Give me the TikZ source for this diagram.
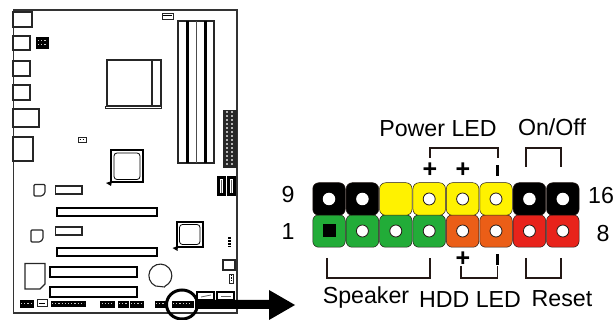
\documentclass[tikz,border=0pt]{standalone}
\usepackage{fontspec}
\setmainfont{Liberation Sans}
\usepackage{tikz}
\usetikzlibrary{arrows}

\definecolor{pinyellow}{HTML}{FFF200}
\definecolor{pingreen}{HTML}{22AC38}
\definecolor{pinorange}{HTML}{EB5E17}
\definecolor{pinred}{HTML}{E8231B}
\definecolor{pinline}{HTML}{231815}

\begin{document}
\begin{tikzpicture}[x=1pt,y=-1pt,node distance=33.4pt,semithick]
\tikzstyle{pin}=[draw=pinline,line width=0.5pt,rounded corners=6pt,minimum size=32.5pt,inner sep=0pt]
\tikzstyle{hole}=[circle,fill=white,draw=pinline,line width=0.8pt,minimum size=12pt,inner sep=0pt]
\tikzstyle{blackhole}=[circle,fill=white,minimum size=12.5pt,inner sep=0pt]
\tikzstyle{txt}=[font=\fontsize{23.2pt}{26}\selectfont,inner sep=0pt]
\tikzstyle{sign}=[font=\fontsize{25pt}{26}\bfseries\selectfont,inner sep=0pt]
\tikzstyle{bracket}=[line width=1.1pt,draw=pinline]
\tikzstyle{bar}=[fill=black,minimum width=2.8pt,minimum height=11pt,inner sep=0pt]
\tikzstyle{board}=[line width=1.1pt,draw=black!85]
\tikzstyle{header}=[fill=black,draw=black]
\tikzstyle{headerdots}=[white!80!black,line width=1pt,dash pattern=on 1.2pt off 2pt]
\useasboundingbox (0,0) rectangle (613,320);

        % board outline
        \draw[line width=1.4pt,black!80] (13.5,137) -- (13.5,313) -- (237,313) -- (237,10) -- (13.5,10) -- (13.5,137);

        % back panel
        \draw[board,fill=white] (13,12) rectangle (32,27);
        \draw[board,fill=white] (13,36) rectangle (30,50);
        \draw[board,fill=white] (13,61) rectangle (30,76);
        \draw[board,fill=white] (13,85) rectangle (30,100);
        \draw[board,fill=white] (13,109) rectangle (39,127);
        \draw[board,fill=white] (13,137) rectangle (33,161);

        % small chips at the top
        \draw[header] (36,37) rectangle (48,48);
        \draw[headerdots] (38,41) -- (46,41);
        \draw[headerdots] (38,45) -- (46,45);
        \draw[board,line width=0.8pt] (78,137) rectangle (86,142);
        \draw[headerdots,black] (79.5,139.5) -- (85,139.5);
        \draw[board,line width=0.8pt] (162,13) rectangle (173,19);
        \draw[black,line width=1pt] (163,16) -- (172,16);

        % cpu socket
        \draw[board] (107,60) rectangle (161,106);
        \draw[board] (152,60) -- (152,106);
        \draw[board,line width=0.8pt] (105.5,106) rectangle (161,108.5);

        % memory slots
        \draw[board] (178,21) rectangle (214,163);
        \draw[black,line width=2.6pt] (187.5,21) -- (187.5,163);
        \draw[black!70,line width=1.2pt] (196.5,21) -- (196.5,163);
        \draw[black,line width=2.6pt] (205.5,21) -- (205.5,163);

        % atx connector
        \draw[fill=black!85,draw=black!85] (223,110) rectangle (236,167);
        \draw[white!70!black,line width=2pt,dash pattern=on 1.6pt off 2.4pt] (226.5,111) -- (226.5,166);
        \draw[white!70!black,line width=2pt,dash pattern=on 1.6pt off 2.4pt] (232,111) -- (232,166);

        % chipsets
        \draw[line width=1.6pt] (143,182) -- (143,150) -- (111,150) -- (111,182) -- cycle;
        \draw[line width=0.8pt,rounded corners=3pt] (140,179.5) -- (140,153) -- (114,153) -- (114,179.5) -- cycle;
        \fill (106,183) -- (112,181) -- (111,186) -- cycle;
        \draw[line width=1.6pt] (203,247) -- (203,222) -- (177,222) -- (177,247) -- cycle;
        \draw[line width=0.8pt,rounded corners=3pt] (200,244.5) -- (200,224.5) -- (179.5,224.5) -- (179.5,244.5) -- cycle;
        \fill (172.5,248) -- (178,246) -- (177.5,251) -- cycle;

        % sata
        \draw[black,line width=3pt] (218,178) rectangle (224,195);
        \draw[black,line width=3pt] (228,178) rectangle (234,195);
        \draw[black,line width=2.6pt] (197,292) rectangle (214,300);
        \draw[black,line width=2.6pt] (217,292) rectangle (234,300);
        \draw[black!60,line width=0.8pt] (201,297) -- (211,295);
        \draw[black!60,line width=0.8pt] (221,296) -- (231,296);
        \draw[black!60,line width=0.8pt] (221,180) -- (221,193);
        \draw[black!60,line width=0.8pt] (231,180) -- (231,193);

        % expansion slots
        \draw[board,line width=1.3pt] (55.5,186) rectangle (82,194);
        \draw[board,line width=1.3pt] (55.5,227) rectangle (82,235);
        \draw[line width=2pt] (56.5,208) rectangle (157,216);
        \draw[line width=2pt] (56.5,248) rectangle (157,256);
        \draw[line width=1.6pt] (50,267) rectangle (137,277);
        \draw[line width=1.6pt] (50,287) rectangle (137,297);

        % regulators, audio, battery
        \draw[board,rounded corners=1pt] (34,184.5) -- (45,184.5) -- (45,193) -- (42,196) -- (34,196) -- cycle;
        \draw[board,rounded corners=1pt] (31,230) -- (43,230) -- (43,239) -- (40,242) -- (31,242) -- cycle;
        \draw[board] (25,263.5) -- (45,263.5) -- (45,284) -- (40,289) -- (25,289) -- cycle;
        \draw[board] (155.5,286) arc[start angle=115,end angle=425,radius=11.5] -- (164.5,287) -- cycle;

        % small parts on the right
        \draw[black,line width=3pt,dash pattern=on 2pt off 1pt] (229,237) -- (229,247);
        \draw[board] (223,260) rectangle (235,270);
        \draw[board,line width=0.8pt] (229,274) rectangle (233.5,283);
        \draw[black,line width=1pt,dash pattern=on 1.5pt off 1pt] (231,275) -- (231,282);

        % bottom headers
        \draw[header] (20,300.5) rectangle (33,307);
        \draw[headerdots] (21,303.8) -- (32,303.8);
        \draw[board,line width=1pt] (37,300) rectangle (47,307);
        \draw[black,line width=1pt] (39,304) -- (45,304);
        \draw[header] (51,301) rectangle (85,306.5);
        \draw[headerdots] (52,303.8) -- (84,303.8);
        \draw[header] (100.5,301) rectangle (114,307);
        \draw[headerdots] (101.5,304) -- (113,304);
        \draw[header] (118,301) rectangle (128,307);
        \draw[headerdots] (119,304) -- (127,304);
        \draw[header] (130,301) rectangle (143,307);
        \draw[headerdots] (131,304) -- (142,304);
        \draw[header] (155,301) rectangle (165,307);
        \draw[headerdots] (156,304) -- (164,304);
        \draw[header] (172,301) rectangle (193,307);
        \draw[headerdots] (173,304) -- (192,304);

        % arrow and circle
        \fill[black] (195,300) -- (269,300) -- (269,290) -- (295,305) -- (269,320) -- (269,309) -- (195,309) -- cycle;
        \draw[line width=3pt] (182,304.5) ellipse (15.5pt and 14.5pt);

        % the pins
        \node[pin,fill=pingreen]     (pin1)                  at (329,231) {};
        \node[pin,fill=pingreen]     (pin2)  [right of=pin1]  {};
        \node[pin,fill=pingreen]     (pin3)  [right of=pin2]  {};
        \node[pin,fill=pingreen]     (pin4)  [right of=pin3]  {};
        \node[pin,fill=pinorange]    (pin5)  [right of=pin4]  {};
        \node[pin,fill=pinorange]    (pin6)  [right of=pin5]  {};
        \node[pin,fill=pinred]       (pin7)  [right of=pin6]  {};
        \node[pin,fill=pinred]       (pin8)  [right of=pin7]  {};

        \node[pin,fill=black]        (pin9)                  at (329,199) {};
        \node[pin,fill=black]        (pin10) [right of=pin9]  {};
        \node[pin,fill=pinyellow]    (pin11) [right of=pin10] {};
        \node[pin,fill=pinyellow]    (pin12) [right of=pin11] {};
        \node[pin,fill=pinyellow]    (pin13) [right of=pin12] {};
        \node[pin,fill=pinyellow]    (pin14) [right of=pin13] {};
        \node[pin,fill=black]        (pin15) [right of=pin14] {};
        \node[pin,fill=black]        (pin16) [right of=pin15] {};

        % the holes
        \node[fill=black,minimum size=13pt,inner sep=0pt] (h1) at (pin1) {};
        \node[hole] (h2) at (pin2) {};
        \node[hole] (h3) at (pin3) {};
        \node[hole] (h4) at (pin4) {};
        \node[hole] (h5) at (pin5) {};
        \node[hole] (h6) at (pin6) {};
        \node[hole] (h7) at (pin7) {};
        \node[hole] (h8) at (pin8) {};
        \node[blackhole] (h9) at (pin9) {};
        \node[blackhole] (h10) at (pin10) {};
        \node[hole] (h12) at (pin12) {};
        \node[hole] (h13) at (pin13) {};
        \node[hole] (h14) at (pin14) {};
        \node[blackhole] (h15) at (pin15) {};
        \node[blackhole] (h16) at (pin16) {};

        % pin numbers
        \node[txt] (n9)  at (288,195) {9};
        \node[txt] (n1)  at (288,232) {1};
        \node[txt] (n16) at (601,196) {16};
        \node[txt] (n8)  at (603,234) {8};

        % names
        \node[txt] (power)   at (438,129) {Power LED};
        \node[txt] (onoff)   at (552,127) {On/Off};
        \node[txt] (speaker) at (366,298) {Speaker};
        \node[txt] (hdd)     at (470,300) {HDD LED};
        \node[txt] (reset)   at (562,299) {Reset};

        % signs
        \node[sign] (plusa) at (430,170) {+};
        \node[sign] (plusb) at (463,170) {+};
        \node[bar]  (minusa) at (497.5,171) {};
        \node[sign] (plusc) at (463,259) {+};
        \node[bar]  (minusb) at (497.5,260) {};

        % brackets
        \coordinate (pa) at (430,158);
        \coordinate (pb) at (498,158);
        \coordinate (oa) at (526,167);
        \coordinate (ob) at (561,167);
        \coordinate (sa) at (327,258);
        \coordinate (sb) at (430,258);
        \coordinate (ha) at (461,266);
        \coordinate (ra) at (526,258);
        \coordinate (rb) at (561,258);

        \draw[bracket] (pa) -- ++(0,-10) -| (pb);
        \draw[bracket] (oa) -- ++(0,-19) -| (ob);
        \draw[bracket] (sa) -- ++(0,20) -| (sb);
        \draw[bracket] (ha) -- ++(0,12) -| (minusb);
        \draw[bracket] (ra) -- ++(0,20) -| (rb);

\end{tikzpicture}
\end{document}
